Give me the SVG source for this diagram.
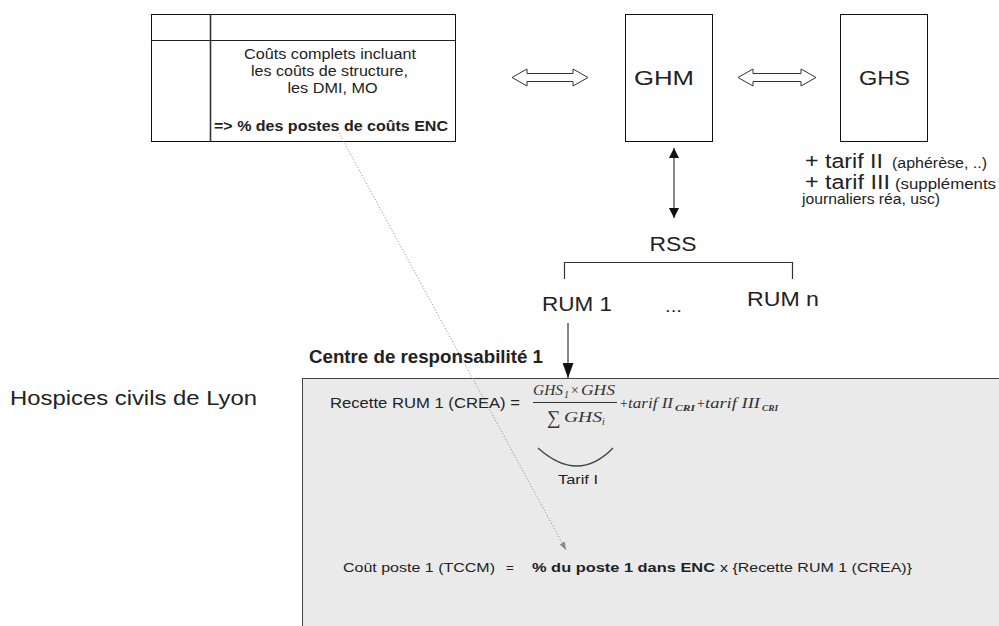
<svg xmlns="http://www.w3.org/2000/svg" width="999" height="626" viewBox="0 0 999 626">
<style>
.t{font-family:"Liberation Sans",Arial,sans-serif;fill:#222}
.b{font-weight:bold}
.m{font-family:"Liberation Serif","Times New Roman",serif;font-style:italic;fill:#333}
.ln{stroke:#222;stroke-width:1;fill:none}
.hollow{fill:#fff;stroke:#333;stroke-width:1}
</style>
<defs>
<marker id="ah" viewBox="0 0 10 10" refX="10" refY="5" markerWidth="10" markerHeight="10" markerUnits="userSpaceOnUse" orient="auto-start-reverse">
<path d="M0,0 L10,5 L0,10 Z" fill="#111"/>
</marker>
<marker id="ahBig" viewBox="0 0 15 11" refX="15" refY="5.5" markerWidth="15" markerHeight="11" markerUnits="userSpaceOnUse" orient="auto">
<path d="M0,0 L15,5.5 L0,11 Z" fill="#111"/>
</marker>
<marker id="ahDot" viewBox="0 0 8 6" refX="8" refY="3" markerWidth="8" markerHeight="6" markerUnits="userSpaceOnUse" orient="auto">
<path d="M0,0 L8,3 L0,6 Z" fill="#888"/>
</marker>
</defs>
<rect width="999" height="626" fill="#fff"/>

<g id="centre-box">
<rect x="302.5" y="378.5" width="720" height="280" fill="#eaeaea" stroke="#444" stroke-width="1"/>
</g>

<g id="enc-table">
<rect x="151.5" y="14.5" width="304" height="127" fill="#fff" stroke="#111" stroke-width="1"/>
<line x1="151" y1="40.5" x2="456" y2="40.5" class="ln"/>
<line x1="210.5" y1="14" x2="210.5" y2="141" stroke="#333" stroke-width="1.6"/>
<text class="t" x="330" y="59" font-size="14" text-anchor="middle" textLength="172" lengthAdjust="spacingAndGlyphs" fill="#333">Coûts complets incluant</text>
<text class="t" x="329.5" y="76" font-size="14" text-anchor="middle" textLength="157" lengthAdjust="spacingAndGlyphs" fill="#333">les coûts de structure,</text>
<text class="t" x="332.5" y="92.5" font-size="14" text-anchor="middle" textLength="90" lengthAdjust="spacingAndGlyphs" fill="#333">les DMI, MO</text>
<text class="t b" x="214" y="130.5" font-size="14" textLength="234" lengthAdjust="spacingAndGlyphs" fill="#111">=&gt; % des postes de coûts ENC</text>
</g>

<g id="ghm">
<rect x="625.5" y="14.5" width="87" height="127" fill="#fff" stroke="#111" stroke-width="1"/>
<text class="t" x="664" y="85" font-size="20" text-anchor="middle" textLength="60" lengthAdjust="spacingAndGlyphs" fill="#111">GHM</text>
</g>

<g id="ghs">
<rect x="840.5" y="14.5" width="87" height="127" fill="#fff" stroke="#111" stroke-width="1"/>
<text class="t" x="884.5" y="85" font-size="20" text-anchor="middle" textLength="51" lengthAdjust="spacingAndGlyphs" fill="#111">GHS</text>
</g>

<g id="tarifs">
<text class="t" x="805" y="168" font-size="20" textLength="78" lengthAdjust="spacingAndGlyphs" fill="#111">+ tarif II</text>
<text class="t" x="892" y="168" font-size="14" textLength="95" lengthAdjust="spacingAndGlyphs" fill="#333">(aphérèse, ..)</text>
<text class="t" x="805" y="189" font-size="20" textLength="85" lengthAdjust="spacingAndGlyphs" fill="#111">+ tarif III</text>
<text class="t" x="895" y="189" font-size="14" textLength="101" lengthAdjust="spacingAndGlyphs" fill="#333">(suppléments</text>
<text class="t" x="802" y="204" font-size="14" textLength="138" lengthAdjust="spacingAndGlyphs" fill="#333">journaliers réa, usc)</text>
</g>

<g id="rss">
<text class="t" x="673" y="251" font-size="20" text-anchor="middle" textLength="47" lengthAdjust="spacingAndGlyphs" fill="#111">RSS</text>
</g>
<g id="rum1">
<text class="t" x="542" y="311" font-size="20" textLength="70" lengthAdjust="spacingAndGlyphs" fill="#111">RUM 1</text>
</g>
<g id="dots">
<text class="t" x="665" y="312" font-size="16" textLength="17" lengthAdjust="spacingAndGlyphs" fill="#333">...</text>
</g>
<g id="rumn">
<text class="t" x="747" y="306" font-size="20" textLength="72" lengthAdjust="spacingAndGlyphs" fill="#111">RUM n</text>
</g>

<g id="labels">
<text class="t" x="10" y="405" font-size="21" textLength="247" lengthAdjust="spacingAndGlyphs" fill="#111">Hospices civils de Lyon</text>
<text class="t b" x="309" y="363" font-size="17.5" textLength="234" lengthAdjust="spacingAndGlyphs" fill="#111">Centre de responsabilité 1</text>
</g>

<g id="formula-recette">
<text class="t" x="330" y="408" font-size="14" textLength="190" lengthAdjust="spacingAndGlyphs" fill="#333">Recette RUM 1 (CREA) =</text>
<text class="m" x="533" y="395" font-size="14" textLength="30" lengthAdjust="spacingAndGlyphs">GHS</text>
<text class="m" x="564" y="398" font-size="10" font-style="normal">1</text>
<text class="m" x="570" y="395" font-size="14" font-style="normal">×</text>
<text class="m" x="581" y="395" font-size="14" textLength="34" lengthAdjust="spacingAndGlyphs">GHS</text>
<line x1="533" y1="402.5" x2="617" y2="402.5" stroke="#333" stroke-width="1.2"/>
<text class="m" x="547" y="424" font-size="19" font-style="normal">∑</text>
<text class="m" x="564" y="422" font-size="14" textLength="38" lengthAdjust="spacingAndGlyphs">GHS</text>
<text class="m" x="602" y="425" font-size="10">i</text>
<text class="m" x="619" y="408" font-size="14" font-style="normal">+</text>
<text class="m" x="628" y="408" font-size="14" textLength="45" lengthAdjust="spacingAndGlyphs">tarif II</text>
<text class="m" x="675" y="411" font-size="9" font-weight="bold" textLength="20" lengthAdjust="spacingAndGlyphs">CRI</text>
<text class="m" x="696" y="408" font-size="14" font-style="normal">+</text>
<text class="m" x="705" y="408" font-size="14" textLength="55" lengthAdjust="spacingAndGlyphs">tarif III</text>
<text class="m" x="762" y="411" font-size="9" font-weight="bold" textLength="16" lengthAdjust="spacingAndGlyphs">CRI</text>
<path d="M538,448 Q578,484 613,448" fill="none" stroke="#444" stroke-width="1.3"/>
<text class="t" x="578" y="484" font-size="13" text-anchor="middle" textLength="40" lengthAdjust="spacingAndGlyphs" fill="#333">Tarif I</text>
</g>

<g id="formula-cout">
<text class="t" x="343" y="572" font-size="13.5" textLength="152" lengthAdjust="spacingAndGlyphs" fill="#444">Coût poste 1 (TCCM)</text>
<text class="t" x="506" y="572" font-size="13.5" fill="#444">=</text>
<text class="t b" x="532" y="572" font-size="13.5" textLength="183" lengthAdjust="spacingAndGlyphs" fill="#222">%  du poste 1 dans ENC</text>
<text class="t" x="720" y="572" font-size="13.5" textLength="192" lengthAdjust="spacingAndGlyphs" fill="#555">x {Recette RUM 1 (CREA)}</text>
</g>

<g id="connectors">
<path class="hollow" d="M512,77.5 L527,69 L527,73.5 L573,73.5 L573,69 L588,77.5 L573,86 L573,81.5 L527,81.5 L527,86 Z"/>
<path class="hollow" d="M738,77.5 L753,69 L753,73.5 L801,73.5 L801,69 L816,77.5 L801,86 L801,81.5 L753,81.5 L753,86 Z"/>
<line x1="674" y1="148" x2="674" y2="218" stroke="#111" stroke-width="1" marker-start="url(#ah)" marker-end="url(#ah)"/>
<path d="M564.5,279 L564.5,262.5 L792.5,262.5 L792.5,279" fill="none" stroke="#333" stroke-width="1.2"/>
<line x1="568" y1="323" x2="568" y2="378" stroke="#111" stroke-width="1" marker-end="url(#ahBig)"/>
<line x1="339" y1="133" x2="566" y2="550" stroke="#888" stroke-width="1" stroke-dasharray="1,2" marker-end="url(#ahDot)"/>
</g>
</svg>
